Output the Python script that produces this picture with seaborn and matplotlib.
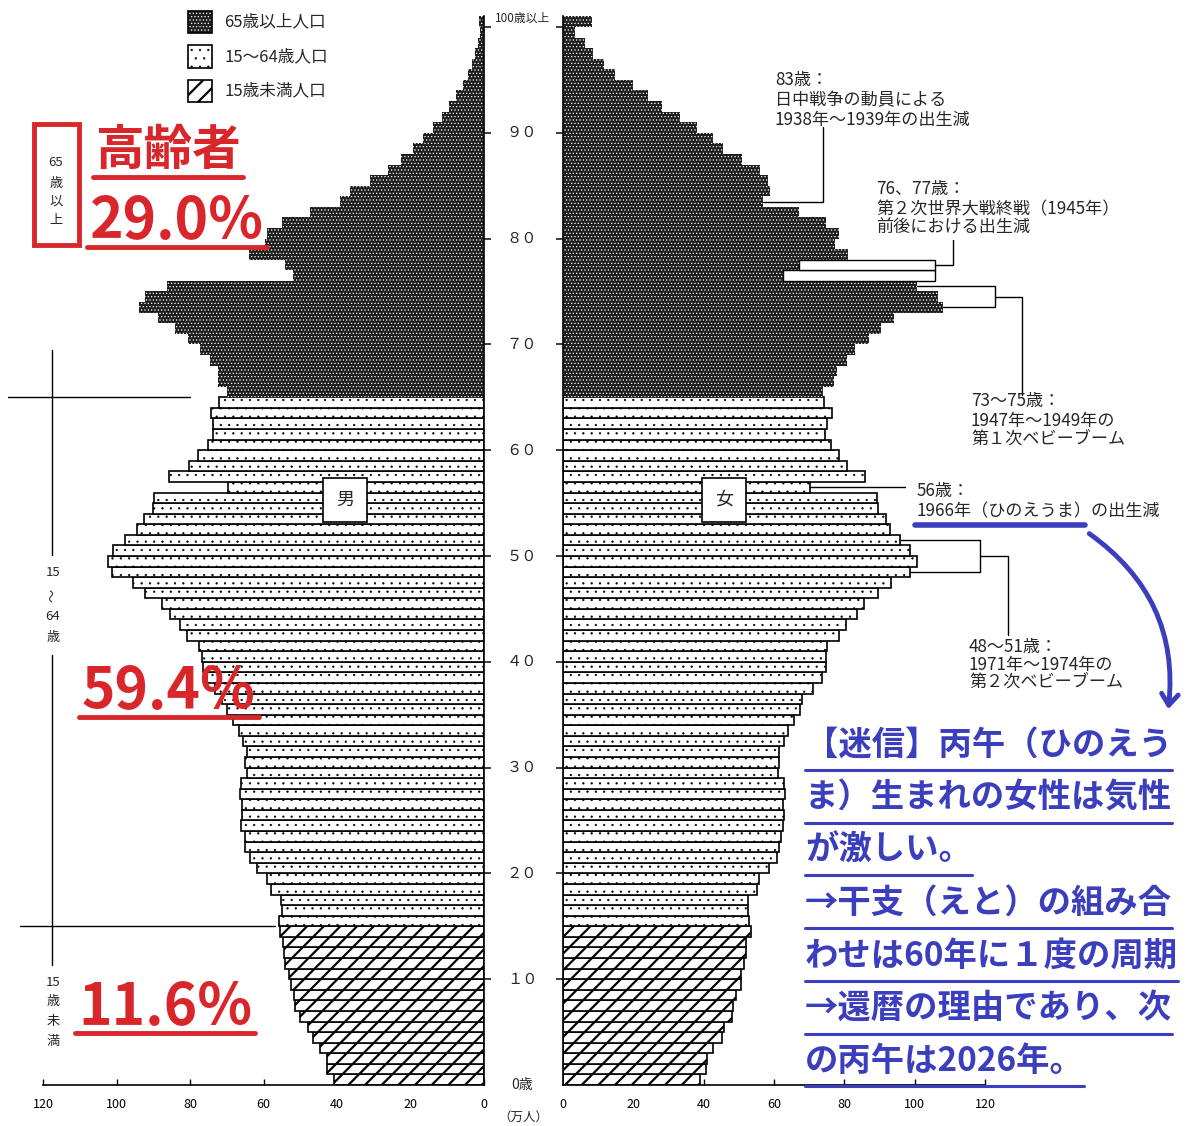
import matplotlib
matplotlib.use("Agg")
import matplotlib.pyplot as plt
import seaborn as sns
import pandas as pd
from matplotlib import transforms
from matplotlib.lines import Line2D
from matplotlib.patches import Rectangle, FancyArrowPatch

# Population by single age, 0 .. 100+ (10k persons)
ages = list(range(101))
male = [40.8, 42.6, 42.8, 44.6, 46.6, 48.0, 50.1, 51.3, 51.7, 52.5,
        53.0, 54.1, 54.4, 54.8, 55.5, 55.8, 54.9, 55.3, 57.9, 59.0,
        61.7, 63.7, 64.9, 64.9, 66.1, 65.9, 65.9, 66.4, 66.0, 64.6,
        64.9, 64.6, 65.7, 66.6, 68.2, 70.0, 71.4, 73.2, 75.5, 76.5,
        76.8, 77.5, 80.7, 82.7, 85.4, 87.7, 92.2, 95.6, 101.1, 102.3,
        100.9, 97.6, 94.5, 92.5, 90.2, 89.8, 69.6, 85.7, 80.3, 77.9,
        75.2, 73.7, 73.7, 74.4, 72.0, 70.0, 72.3, 72.3, 74.6, 77.3,
        80.5, 84.1, 88.6, 94.0, 92.2, 86.3, 51.9, 54.1, 63.9, 59.6,
        59.1, 55.0, 47.3, 39.2, 36.5, 31.0, 26.0, 22.5, 19.2, 16.5,
        14.0, 11.5, 9.4, 7.6, 5.7, 4.4, 3.3, 2.4, 1.6, 1.0,
        1.3]
female = [39.0, 40.7, 40.9, 42.6, 45.1, 45.9, 48.0, 48.2, 49.2, 50.5,
          50.5, 51.6, 52.0, 52.0, 53.4, 53.0, 52.5, 52.5, 55.1, 55.8,
          58.7, 60.8, 61.5, 61.9, 62.6, 62.8, 62.5, 63.2, 62.8, 61.2,
          61.5, 61.5, 62.8, 64.1, 65.8, 67.4, 68.1, 71.2, 73.6, 74.8,
          74.8, 75.2, 78.6, 80.5, 83.5, 85.6, 89.7, 93.4, 98.7, 100.7,
          98.7, 95.8, 93.0, 91.8, 89.7, 89.2, 70.2, 85.9, 80.7, 78.6,
          76.1, 74.5, 75.2, 76.4, 74.3, 74.0, 77.0, 78.0, 80.7, 83.0,
          87.0, 90.5, 94.0, 108.1, 106.7, 100.6, 62.5, 67.2, 81.1, 77.3,
          78.6, 74.8, 67.2, 57.0, 58.9, 58.4, 56.0, 50.8, 45.6, 42.7,
          38.0, 33.3, 28.1, 24.3, 19.8, 14.8, 11.7, 8.6, 6.3, 3.4,
          8.2]

x_ticks = [0, 20, 40, 60, 80, 100, 120]
age_ticks = [0, 10, 20, 30, 40, 50, 60, 70, 80, 90]
age_tick_labels = ["0歳", "１０", "２０", "３０", "４０", "５０", "６０", "７０", "８０", "９０"]
legend_labels = ["65歳以上人口", "15～64歳人口", "15歳未満人口"]
share_labels = ["29.0%", "59.4%", "11.6%"]
memo_lines = ["【迷信】丙午（ひのえう", "ま）生まれの女性は気性", "が激しい。",
              "→干支（えと）の組み合", "わせは60年に１度の周期",
              "→還暦の理由であり、次", "の丙午は2026年。"]

W, H = 1204, 1126
RED = "#d8262b"
BLUE = "#3b3fbd"

sns.set_theme(style="white")
plt.rcParams["font.family"] = ["Noto Sans CJK JP", "DejaVu Sans"]
plt.rcParams["hatch.linewidth"] = 1.6

fig = plt.figure(figsize=(W / 100, H / 100), dpi=100)


def fx(x):
    return x / W


def fy(y):
    return 1 - y / H


# hatch style per age group
STYLES = {
    "old": dict(facecolor="#1e1e1e", edgecolor="white", hatch=".....", linewidth=0, hlw=0.5),
    "work": dict(facecolor="white", edgecolor="black", hatch="..", linewidth=1.2, hlw=0.4),
    "young": dict(facecolor="white", edgecolor="black", hatch="//", linewidth=1.2, hlw=1.6),
}


def group_of(age):
    if age >= 65:
        return "old"
    if age >= 15:
        return "work"
    return "young"


def apply_style(p, st):
    p.set_facecolor(st["facecolor"])
    p.set_edgecolor(st["edgecolor"])
    p.set_hatch(st["hatch"])
    p.set_linewidth(st["linewidth"])
    if hasattr(p, "set_hatch_linewidth"):
        p.set_hatch_linewidth(st["hlw"])


df = pd.DataFrame({"age": ages * 2, "pop": male + female,
                   "sex": ["男"] * len(ages) + ["女"] * len(ages)})

ax_h = (1085 - 16.4) / H
ax_m = fig.add_axes([fx(43), fy(1085), (484 - 43) / W, ax_h])
ax_f = fig.add_axes([fx(563), fy(1085), (985 - 563) / W, ax_h])

for ax, sex in [(ax_m, "男"), (ax_f, "女")]:
    sub = df[df["sex"] == sex]
    sns.barplot(data=sub, x="pop", y="age", orient="h", native_scale=True,
                width=1.0, color="white", errorbar=None, ax=ax)
    for p in ax.patches:
        age = int(round(p.get_y() + p.get_height() / 2))
        apply_style(p, STYLES[group_of(age)])
    ax.set_ylim(-0.5, 100.5)
    ax.set_xlabel("")
    ax.set_ylabel("")
    ax.set_xticks(x_ticks)
    ax.set_xticklabels([str(t) for t in x_ticks])
    ax.tick_params(axis="x", bottom=True, direction="in", length=4, width=1,
                   labelsize=9, pad=9, colors="black")
    ax.set_yticks([a - 0.5 for a in range(10, 101, 10)])
    ax.set_yticklabels([])
    ax.spines["top"].set_visible(False)
    for s in ax.spines.values():
        s.set_color("black")
        s.set_linewidth(1.2)

ax_m.set_xlim(120, 0)
ax_f.set_xlim(0, 120)
ax_m.spines["left"].set_visible(False)
ax_f.spines["right"].set_visible(False)
ax_m.tick_params(axis="y", left=False, right=True, direction="out", length=5)
ax_f.tick_params(axis="y", left=True, right=False, direction="out", length=5)

# age labels between the halves
trans = transforms.blended_transform_factory(fig.transFigure, ax_m.transData)
for a, lab in zip(age_ticks, age_tick_labels):
    fig.text(fx(522), a - 0.5, lab, transform=trans, ha="center", va="center",
             fontsize=11 if a else 10)
fig.text(fx(523), 100.35, "100歳以上", transform=trans, ha="center", va="center", fontsize=8.5)
fig.text(fx(523), fy(1117), "（万人）", ha="center", va="center", fontsize=9)

# sex boxes
for x, s in [(345, "男"), (724, "女")]:
    fig.text(fx(x), fy(500), s, ha="center", va="center", fontsize=13,
             bbox=dict(boxstyle="square,pad=0.7", facecolor="white", edgecolor="black", linewidth=1.2))

# legend
for i, (key, lab) in enumerate(zip(["old", "work", "young"], legend_labels)):
    y_top = 11 + i * 34.5
    box = Rectangle((fx(188), fy(y_top + 22)), 24 / W, 22 / H, transform=fig.transFigure)
    apply_style(box, STYLES[key])
    box.set_linewidth(0)
    fig.add_artist(box)
    fig.add_artist(Rectangle((fx(188), fy(y_top + 22)), 24 / W, 22 / H, transform=fig.transFigure,
                             fill=False, edgecolor="black", linewidth=1.2))
    fig.text(fx(224), fy(y_top + 11), lab, ha="left", va="center", fontsize=12)

# annotations on the female side
line_kw = dict(color="black", linewidth=1.0, clip_on=False)
ax_f.plot([female[83], 73.9, 73.9], [83, 83, 90.0], **line_kw)
war_edge = 105.8
ax_f.barh([76, 77], [war_edge - female[76], war_edge - female[77]],
          left=[female[76], female[77]], height=1.0, color="white",
          edgecolor="black", linewidth=1.0)
ax_f.plot([war_edge, 110.9, 110.9], [77, 77, 79.4], **line_kw)
ax_f.plot([female[75], 122.8, 122.8, female[73]], [75, 75, 73, 73], **line_kw)
ax_f.plot([122.8, 130.5, 130.5], [74, 74, 64.7], **line_kw)
ax_f.plot([female[56], 97.2], [56, 56], **line_kw)
ax_f.plot([female[51], 118.6, 118.6, female[48]], [51, 51, 48, 48], **line_kw)
ax_f.plot([118.6, 126.5, 126.5], [49.5, 49.5, 42.0], **line_kw)

notes = [
    (775, [80, 100, 120], ["83歳：", "日中戦争の動員による", "1938年～1939年の出生減"]),
    (876, [189, 209, 228], ["76、77歳：", "第２次世界大戦終戦（1945年）", "前後における出生減"]),
    (971, [401, 421, 440], ["73～75歳：", "1947年～1949年の", "第１次ベビーブーム"]),
    (917, [491, 511], ["56歳：", "1966年（ひのえうま）の出生減"]),
    (969, [647, 665, 683], ["48～51歳：", "1971年～1974年の", "第２次ベビーブーム"]),
]
for x, ys, texts in notes:
    for y, t in zip(ys, texts):
        fig.text(fx(x), fy(y), t, ha="left", va="center", fontsize=12.3)

fig.add_artist(Line2D([fx(915), fx(1085)], [fy(525), fy(525)], transform=fig.transFigure,
                      color=BLUE, linewidth=4, solid_capstyle="round"))
fig.add_artist(FancyArrowPatch((fx(1087), fy(532)), (fx(1168), fy(712)), transform=fig.transFigure,
                               connectionstyle="arc3,rad=-0.3",
                               arrowstyle="->,head_length=8,head_width=6",
                               color=BLUE, linewidth=3.5))

renderer = fig.canvas.get_renderer()


def underline(text_obj, y, color, lw, extra=0):
    bb = text_obj.get_window_extent(renderer=renderer)
    fig.add_artist(Line2D([(bb.x0 - extra) / W, (bb.x1 + extra) / W], [fy(y), fy(y)],
                          transform=fig.transFigure, color=color, linewidth=lw))


# memo in blue
for i, line in enumerate(memo_lines):
    yc = 745 + i * 52.7
    t = fig.text(fx(805), fy(yc), line, ha="left", va="center", fontsize=24,
                 fontweight="bold", color=BLUE)
    underline(t, yc + 25, BLUE, 2.2)

# red shares on the left
t = fig.text(fx(95), fy(150), "高齢者", ha="left", va="center", fontsize=35,
             fontweight="bold", color=RED)
underline(t, 177, RED, 3.5, 2)
for (y, x), lab in zip([(222, 90), (692, 82), (1008, 78)], share_labels):
    t = fig.text(fx(x), fy(y), lab, ha="left", va="center", fontsize=41,
                 fontweight="bold", color=RED)
    underline(t, y + 25, RED, 3.5, 3)

fig.add_artist(Rectangle((fx(34), fy(245)), 45 / W, 121 / H, transform=fig.transFigure,
                         fill=False, edgecolor=RED, linewidth=3.5))
for y, s in zip([162, 183, 202, 221], ["65", "歳", "以", "上"]):
    fig.text(fx(56), fy(y), s, ha="center", va="center", fontsize=9.5)
for y, s in zip([572, 595, 617, 637], ["15", "～", "64", "歳"]):
    fig.text(fx(53), fy(y), s, ha="center", va="center", fontsize=9.5,
             rotation=90 if s == "～" else 0)
for y, s in zip([982, 1002, 1022, 1042], ["15", "歳", "未", "満"]):
    fig.text(fx(53), fy(y), s, ha="center", va="center", fontsize=9.5)

trans_l = transforms.blended_transform_factory(fig.transFigure, ax_m.transData)
fig.add_artist(Line2D([fx(8), fx(190)], [64.5, 64.5], transform=trans_l, color="black", linewidth=1))
fig.add_artist(Line2D([fx(20), fx(275)], [14.5, 14.5], transform=trans_l, color="black", linewidth=1))
fig.add_artist(Line2D([fx(52), fx(52)], [fy(350), fy(555)], transform=fig.transFigure, color="black", linewidth=1))
fig.add_artist(Line2D([fx(52), fx(52)], [fy(655), fy(965)], transform=fig.transFigure, color="black", linewidth=1))

fig.savefig("out.png", dpi=100, facecolor="white")
